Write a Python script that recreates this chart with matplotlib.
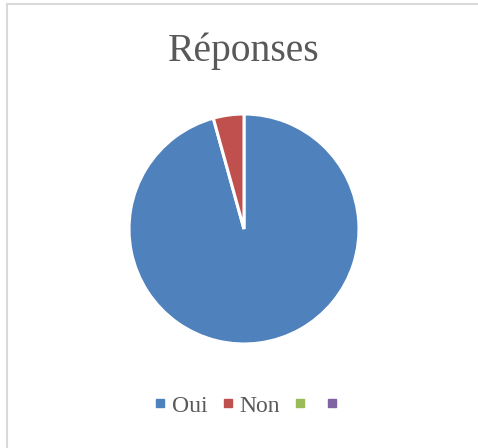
import matplotlib
matplotlib.use("Agg")
import matplotlib.pyplot as plt
from matplotlib.lines import Line2D

categories = ["Oui", "Non", "", ""]
values = [95.7, 4.3, 0, 0]
colors = ["#4F81BD", "#C0504D", "#9BBB59", "#8064A2"]
title = "Réponses"

W, H = 478, 448
fig = plt.figure(figsize=(W / 100, H / 100), dpi=100)
fig.patch.set_facecolor("white")

# chart border (top and left edges visible)
fig.add_artist(Line2D([6.5 / W, 6.5 / W], [0, 1 - 4.5 / H], transform=fig.transFigure,
                      color="#D9D9D9", linewidth=1.5))
fig.add_artist(Line2D([6.5 / W, 1], [1 - 4.5 / H, 1 - 4.5 / H], transform=fig.transFigure,
                      color="#D9D9D9", linewidth=1.5))

ax = fig.add_axes([(244 - 115) / W, (H - 229 - 115) / H, 230 / W, 230 / H])
nz = [(v, c) for v, c in zip(values, colors) if v > 0]
ax.pie([v for v, _ in nz], colors=[c for _, c in nz], startangle=90, counterclock=False,
       wedgeprops=dict(edgecolor="white", linewidth=2.2), radius=1.0)
ax.set_xlim(-1, 1)
ax.set_ylim(-1, 1)
ax.set_aspect("equal")
ax.axis("off")

fig.text(244 / W, 1 - 51 / H, title, ha="center", va="center",
         fontsize=28.5, color="#595959", family="Liberation Serif")

handles = [Line2D([0], [0], marker="s", linestyle="none", markersize=6,
                  markerfacecolor=c, markeredgecolor=c) for c in colors]
leg = fig.legend(handles, categories, loc="center", bbox_to_anchor=(249 / W, 1 - 406 / H),
                 ncol=4, frameon=False, handlelength=0.5, handletextpad=0.25,
                 columnspacing=0.6, prop=dict(family="Liberation Serif", size=17))
for t in leg.get_texts():
    t.set_color("#595959")

fig.savefig("out.png", dpi=100)
